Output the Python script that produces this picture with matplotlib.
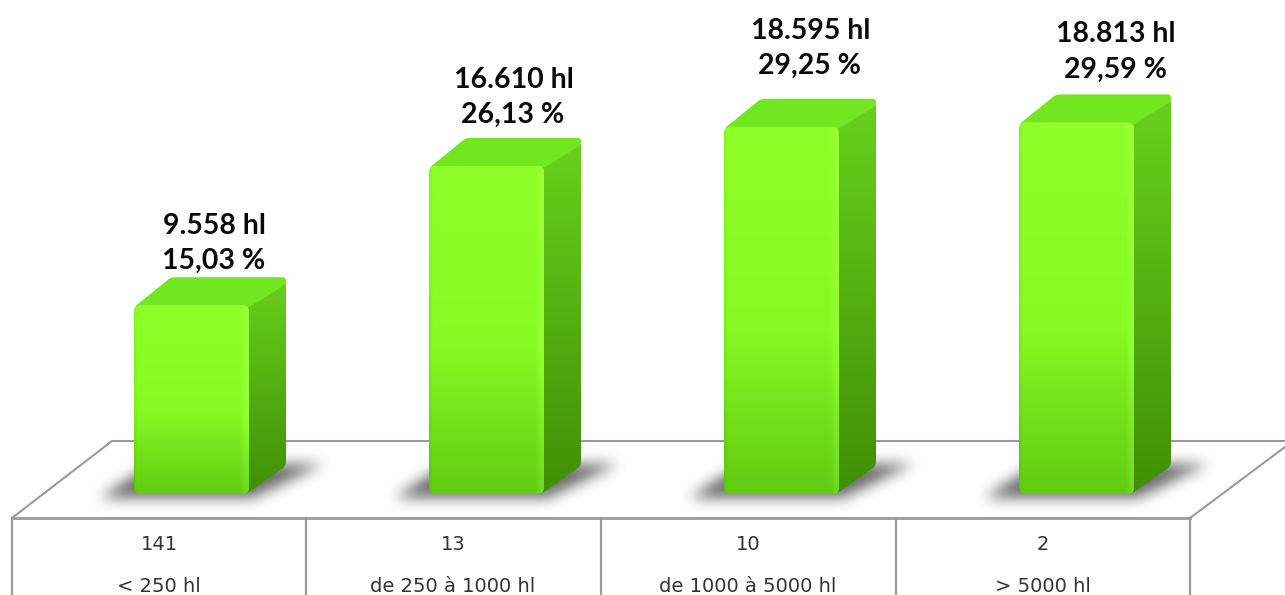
import numpy as np
import matplotlib
matplotlib.use('Agg')
import matplotlib.pyplot as plt
from matplotlib.path import Path
from matplotlib.patches import PathPatch

# values
categories = ['< 250 hl', 'de 250 à 1000 hl', 'de 1000 à 5000 hl', '> 5000 hl']
counts = ['141', '13', '10', '2']
volumes = [9558, 16610, 18595, 18813]
volume_labels = ['9.558 hl', '16.610 hl', '18.595 hl', '18.813 hl']
share_labels = ['15,03 %', '26,13 %', '29,25 %', '29,59 %']

W, H = 1285, 595
BASE = 494          # pixel row of value 0
Y_SCALE = 0.01975   # pixels per hl
X0, X_STEP = 191.5, 295

fig = plt.figure(figsize=(W / 100, H / 100), dpi=100)
ax = fig.add_axes([0, 0, 1, 1])
ax.axis('off')


# helpers, pixel offsets to data units
def dx(p):
    return p / X_STEP


def dy(p):
    return p / Y_SCALE


def X(p):
    return (p - X0) / X_STEP


def Y(p):
    return (BASE - p) / Y_SCALE


def rounded(pts, r):
    # polygon path with corners cut by quadratic curves (r in pixels)
    verts, codes = [], []
    n = len(pts)
    sc = np.array([X_STEP, Y_SCALE])
    for k in range(n):
        p = np.array(pts[k], float)
        u = (np.array(pts[k - 1], float) - p) * sc
        v = (np.array(pts[(k + 1) % n], float) - p) * sc
        p1 = p + u / np.linalg.norm(u) * r / sc
        p2 = p + v / np.linalg.norm(v) * r / sc
        verts += [p1, p, p2]
        codes += [Path.MOVETO if k == 0 else Path.LINETO, Path.CURVE3, Path.CURVE3]
    verts.append(verts[0])
    codes.append(Path.CLOSEPOLY)
    return Path(verts, codes)


def gradient(arr, path, extent, z):
    im = ax.imshow(arr, extent=extent, origin='upper', aspect='auto', zorder=z,
                   interpolation='bilinear')
    patch = PathPatch(path, fc='none', ec='none', transform=ax.transData)
    ax.add_patch(patch)
    im.set_clip_path(patch)


def blur(a, n):
    kernel = np.ones(n) / n
    for _ in range(3):
        a = np.apply_along_axis(lambda r: np.convolve(r, kernel, mode='same'), 0, a)
        a = np.apply_along_axis(lambda r: np.convolve(r, kernel, mode='same'), 1, a)
    return a


GREY = '#9a9a9a'
LW = 1.5
# floor of the table
ax.plot([X(12), X(112), X(1285)], [Y(518), Y(441), Y(441)], color=GREY, lw=LW, zorder=1)
ax.plot([X(1190), X(1285)], [Y(518), Y(447)], color=GREY, lw=LW, zorder=1)
ax.plot([X(12), X(1190)], [Y(518), Y(518)], color=GREY, lw=2, zorder=1)
for px in [12, 306, 601, 896, 1190]:
    ax.plot([X(px), X(px)], [Y(518), Y(H)], color=GREY, lw=1.6, zorder=1)

half = dx(57.5)
ddx, ddy = dx(37), dy(28)

for i, v in enumerate(volumes):
    l, r = i - half, i + half

    # shadow on the floor
    cx = X0 + X_STEP * i
    sx0, sx1, sy0, sy1 = int(cx - 150), int(cx + 190), 425, 535
    gx, gy = np.meshgrid(np.arange(sx0, sx1), np.arange(sy0, sy1))
    quad = Path([(cx - 92, 497), (cx + 62, 497), (cx + 132, 463), (cx - 40, 463)])
    mask = quad.contains_points(np.c_[gx.ravel(), gy.ravel()]).reshape(gx.shape).astype(float)
    a = blur(mask, 13) * 0.8
    rgba = np.zeros(mask.shape + (4,))
    rgba[..., :3] = 0.28
    rgba[..., 3] = a
    ax.imshow(rgba, extent=[X(sx0), X(sx1), Y(sy1), Y(sy0)], origin='upper', aspect='auto',
              zorder=2, interpolation='bilinear')

    # top face
    top = rounded([(l, v - dy(2)), (l + ddx, v + ddy), (r + ddx, v + ddy),
                   (r + ddx, v + ddy - dy(7)), (r, v - dy(2))], 3.4)
    ax.add_patch(PathPatch(top, fc='#72e61f', ec='none', zorder=3.1))

    # side face, darker towards the bottom
    side = rounded([(r - dx(3), 0), (r - dx(3), v), (r + ddx, v + ddy - dy(4)), (r + ddx, ddy)], 4)
    ys = np.linspace(0, 1, 200)[:, None]
    side_top = np.array([0.41, 0.82, 0.11])
    side_bot = np.array([0.25, 0.56, 0.02])
    arr = side_top + (side_bot - side_top) * ys[..., None]
    gradient(arr, side, [r - dx(3), r + ddx, 0, v + ddy], 3)

    # front face
    front = rounded([(l, 0), (l, v), (r, v), (r, 0)], 6)
    ys = np.linspace(0, 1, 300)
    xs = np.linspace(0, 1, 115)
    cols = np.array([[0.56, 1.0, 0.16], [0.53, 0.98, 0.14], [0.38, 0.80, 0.07]])
    col = np.stack([np.interp(ys, [0, 0.55, 1], cols[:, c]) for c in range(3)], axis=1)
    arr = np.repeat(col[:, None, :], len(xs), axis=1)
    # soft lighter band along the right edge, softer dark one on the left
    band = np.clip((xs - 0.93) / 0.05, 0, 1) * 0.05 - np.clip((0.03 - xs) / 0.03, 0, 1) * 0.04
    arr = np.clip(arr + band[None, :, None], 0, 1)
    gradient(arr, front, [l, r, 0, v], 4)

# labels, each pair sits by hand in the source picture
vol_pos = [(214, 226), (514, 80), (811, 31), (1116, 34)]
share_pos = [(214, 261), (513, 115), (810, 66), (1115, 70)]
FONT = 'Lato'
for i in range(4):
    ax.text(X(vol_pos[i][0]), Y(vol_pos[i][1]), volume_labels[i], ha='center', va='center',
            fontsize=20.5, fontweight='bold', family=FONT, color='#0a0a0a', zorder=6)
    ax.text(X(share_pos[i][0]), Y(share_pos[i][1]), share_labels[i], ha='center', va='center',
            fontsize=20.5, fontweight='bold', family=FONT, color='#0a0a0a', zorder=6)

cell_x = [159, 453, 748, 1043]
for i in range(4):
    ax.text(X(cell_x[i]), Y(544), counts[i], ha='center', va='center', fontsize=14,
            family='DejaVu Sans', color='#333333', zorder=6)
    ax.text(X(cell_x[i]), Y(586), categories[i], ha='center', va='center', fontsize=14,
            family='DejaVu Sans', color='#333333', zorder=6)

ax.set_xlim(-X0 / X_STEP, (W - X0) / X_STEP)
ax.set_ylim(-(H - BASE) / Y_SCALE, BASE / Y_SCALE)
fig.savefig('out.png', dpi=100)
